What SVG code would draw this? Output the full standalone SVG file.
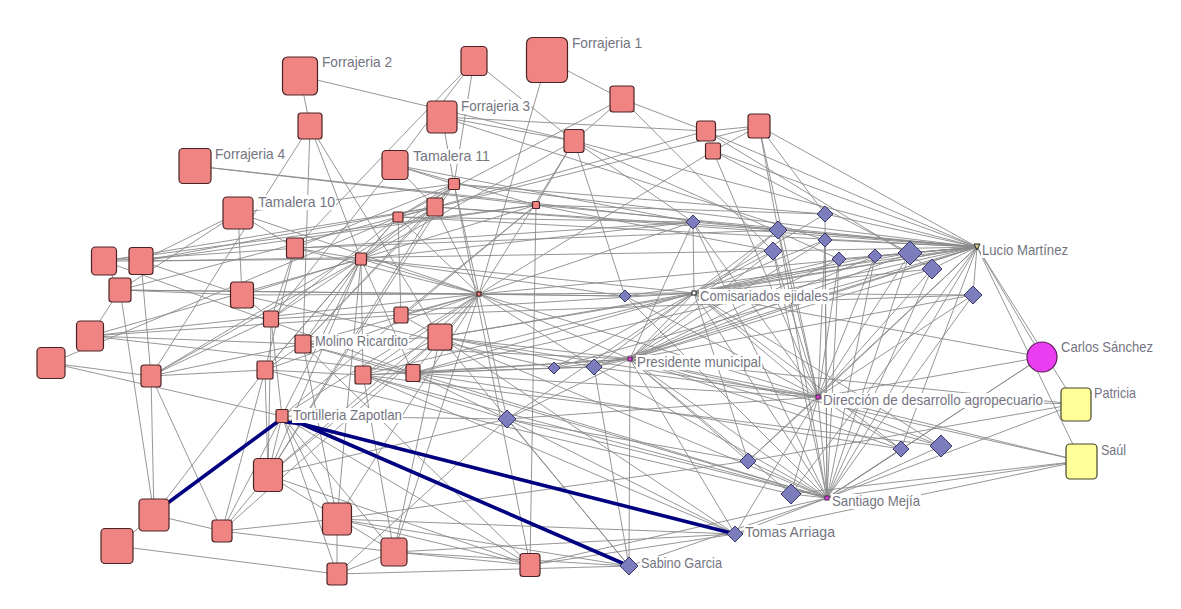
<svg xmlns="http://www.w3.org/2000/svg" width="1181" height="609" viewBox="0 0 1181 609">
<style>
.e{stroke:#8a8a8a;stroke-width:0.9;fill:none}
.b{stroke:#000080;stroke-width:3.6;fill:none;stroke-linecap:round;stroke-linejoin:round}
.pk{fill:#f08482;stroke:#4a2424;stroke-width:1.2}
.di{fill:#7d7dbe;stroke:#38386a;stroke-width:1}
.mg{fill:#e040e0;stroke:#502050;stroke-width:1}
.ye{fill:#ffff99;stroke:#44442a;stroke-width:1.2}
.lb{fill:#fff}
text{font-family:"Liberation Sans",Arial,sans-serif;font-size:14.5px;fill:#74747f}
</style>
<rect width="1181" height="609" fill="#fff"/>
<g id="connectors">
<path class="e" d="M300 76L310 126M300 76L574 141M310 126L151 376M310 126L303 344M310 126L440 337M310 126L361 259M195 166L536 205M195 166L778 230M238 213L454 184M238 213L295 248M238 213L242 295M238 213L141 261M547 60L622 99M547 60L479 294M622 99L706 131M622 99L574 141M622 99L398 217M474 61L395 165M474 61L295 248M474 61L574 141M474 61L454 184M442 117L706 131M442 117L574 141M442 117L454 184M395 165L454 184M395 165L271 319M574 141L693 222M574 141L479 294M574 141L625 296M574 141L977 247M574 141L536 205M706 131L759 126M706 131L932 269M706 131L435 207M759 126L778 230M759 126L825 214M759 126L713 151M713 151L910 253M713 151L479 294M759 126L398 217M454 184L825 214M454 184L977 247M454 184L435 207M454 184L398 217M454 184L295 248M454 184L479 294M454 184L303 344M454 184L268 475M442 117L825 240M622 99L773 251M574 141L839 259M395 165L536 205M395 165L693 222"/>
<path class="e" d="M977 247L693 222M977 247L778 230M977 247L825 214M977 247L773 251M977 247L825 240M977 247L839 259M977 247L875 256M977 247L910 253M977 247L932 269M977 247L973 295M977 247L694 293M977 247L630 359M977 247L818 397M977 247L827 498M977 247L1042 357M977 247L1076 404M977 247L1081 461M977 247L625 296M977 247L594 367M977 247L748 461M977 247L791 494M977 247L901 449M977 247L536 205M977 247L759 126M977 247L479 294M977 247L554 368M977 247L440 337M977 247L413 373M977 247L398 217M977 247L435 207M977 247L713 151M977 247L706 131"/>
<path class="e" d="M818 397L694 293M818 397L630 359M818 397L827 498M818 397L693 222M818 397L778 230M818 397L773 251M818 397L825 240M818 397L839 259M818 397L875 256M818 397L910 253M818 397L932 269M818 397L973 295M818 397L625 296M818 397L594 367M818 397L507 419M818 397L748 461M818 397L791 494M818 397L901 449M818 397L941 446M818 397L735 534M818 397L1042 357M818 397L1076 404M818 397L1081 461M818 397L479 294M818 397L440 337M818 397L413 373M818 397L759 126M818 397L713 151"/>
<path class="e" d="M827 498L694 293M827 498L630 359M827 498L778 230M827 498L773 251M827 498L825 240M827 498L839 259M827 498L875 256M827 498L910 253M827 498L932 269M827 498L973 295M827 498L625 296M827 498L594 367M827 498L748 461M827 498L791 494M827 498L901 449M827 498L941 446M827 498L735 534M827 498L629 566M827 498L1081 461M827 498L1076 404M827 498L1042 357M827 498L413 373M827 498L363 375M827 498L440 337M827 498L303 344M827 498L507 419M827 498L530 565M827 498L693 222M827 498L825 214"/>
<path class="e" d="M694 293L693 222M694 293L778 230M694 293L825 214M694 293L773 251M694 293L825 240M694 293L839 259M694 293L875 256M694 293L910 253M694 293L932 269M694 293L973 295M694 293L630 359M694 293L625 296M694 293L554 368M694 293L594 367M694 293L507 419M694 293L479 294M694 293L413 373M694 293L440 337M694 293L748 461M694 293L901 449M694 293L941 446M694 293L1042 357M694 293L363 375M694 293L361 259M694 293L271 319"/>
<path class="e" d="M630 359L629 566M630 359L594 367M630 359L554 368M630 359L693 222M630 359L778 230M630 359L773 251M630 359L825 240M630 359L839 259M630 359L875 256M630 359L910 253M630 359L932 269M630 359L973 295M630 359L748 461M630 359L791 494M630 359L901 449M630 359L941 446M630 359L1076 404M630 359L1081 461M630 359L413 373M630 359L363 375M630 359L440 337M630 359L479 294M630 359L507 419M630 359L735 534M630 359L303 344"/>
<path class="e" d="M1042 357L827 498M1076 404L748 461M1081 461L735 534M1081 461L791 494M735 534L337 519M735 534L394 552M735 534L507 419M735 534L530 565M735 534L440 337M629 566L337 519M629 566L394 552M629 566L440 337M629 566L594 367M629 566L337 574M629 566L507 419M337 519L748 461"/>
<path class="e" d="M154 515L117 546M154 515L222 531M154 515L151 376M154 515L120 290M154 515L265 370M117 546L337 574M222 531L337 519M222 531L394 552M222 531L151 376M222 531L282 416M222 531L268 475M222 531L265 370M337 574L337 519M337 574L394 552M337 574L282 416M394 552L530 565M337 519L530 565M337 519L282 416M268 475L282 416M268 475L265 370M268 475L271 319M337 519L303 344M394 552L282 416M530 565L303 344M530 565L268 475M530 565L454 184"/>
<path class="e" d="M479 294L435 207M479 294L398 217M479 294L361 259M479 294L295 248M479 294L120 290M479 294L242 295M479 294L303 344M479 294L363 375M479 294L413 373M479 294L440 337M479 294L282 416M479 294L265 370M479 294L268 475M479 294L337 519M479 294L394 552M479 294L625 296M479 294L693 222M479 294L507 419M479 294L401 315M479 294L238 213M479 294L90 336M479 294L594 367"/>
<path class="e" d="M361 259L141 261M361 259L295 248M361 259L454 184M361 259L435 207M361 259L398 217M361 259L271 319M361 259L265 370M361 259L303 344M361 259L363 375M361 259L413 373M361 259L282 416M361 259L268 475M361 259L151 376M361 259L625 296M361 259L693 222M361 259L574 141M361 259L90 336M361 259L337 519"/>
<path class="e" d="M398 217L120 290M398 217L435 207M398 217L271 319M398 217L265 370M398 217L693 222M398 217L51 363M398 217L401 315M435 207L395 165M435 207L104 261M435 207L151 376M435 207L303 344M435 207L778 230M435 207L268 475M435 207L141 261M536 205L530 565M536 205L141 261M536 205L242 295M536 205L282 416M536 205L825 214M536 205L773 251M536 205L401 315M536 205L104 261"/>
<path class="e" d="M104 261L141 261M104 261L120 290M104 261L693 222M104 261L413 373M90 336L120 290M90 336L401 315M90 336L303 344M90 336L413 373M51 363L151 376M51 363L282 416M151 376L271 319M151 376L265 370M151 376L303 344M151 376L141 261M265 370L363 375M265 370L295 248M265 370L303 344M303 344L413 373M303 344L440 337M363 375L413 373M363 375L440 337M363 375L394 552M363 375L507 419M363 375L735 534M413 373L554 368M413 373L594 367M413 373L507 419M440 337L594 367M440 337L268 475M440 337L222 531M440 337L394 552M282 416L507 419M282 416L530 565M282 416L271 319M268 475L394 552M554 368L594 367M507 419L268 475M507 419L337 574M507 419L748 461M141 261L773 251M120 290L625 296M242 295L554 368M363 375L941 446M413 373L901 449M401 315L973 295M265 370L791 494M401 315L440 337M295 248L271 319M242 295L271 319M120 290L242 295M141 261L242 295M295 248L778 230M238 213L120 290"/>
<path class="b" d="M280 420L165 505M286 422L302 424L735 534M302 424L629 566"/>
</g>
<g id="p1"><rect class="pk" x="526.5" y="37.5" width="41" height="45" rx="6"/><rect class="lb" x="571" y="36" width="72" height="15"/><text x="572" y="48" textLength="70" lengthAdjust="spacingAndGlyphs">Forrajeria 1</text></g>
<g id="p2"><rect class="pk" x="282.5" y="57" width="35" height="38" rx="5"/><rect class="lb" x="321" y="55" width="72" height="15"/><text x="322" y="67" textLength="70" lengthAdjust="spacingAndGlyphs">Forrajeria 2</text></g>
<g id="p3"><rect class="pk" x="427" y="101" width="30" height="32" rx="4"/><rect class="lb" x="460" y="99" width="71" height="15"/><text x="461" y="111" textLength="69" lengthAdjust="spacingAndGlyphs">Forrajeria 3</text></g>
<g id="p4"><rect class="pk" x="179" y="148.5" width="32" height="35" rx="4"/><rect class="lb" x="214" y="147" width="72" height="15"/><text x="215" y="159" textLength="70" lengthAdjust="spacingAndGlyphs">Forrajeria 4</text></g>
<g id="p5"><rect class="pk" x="461" y="46.5" width="26" height="29" rx="4"/></g>
<g id="p6"><rect class="pk" x="610" y="86" width="24" height="26" rx="3"/></g>
<g id="p7"><rect class="pk" x="298" y="113" width="24" height="26" rx="3"/></g>
<g id="p8"><rect class="pk" x="382" y="150.5" width="26" height="29" rx="4"/><rect class="lb" x="412" y="149" width="79" height="15"/><text x="413" y="161" textLength="77" lengthAdjust="spacingAndGlyphs">Tamalera 11</text></g>
<g id="p9"><rect class="pk" x="223" y="197" width="30" height="32" rx="4"/><rect class="lb" x="257" y="195" width="79" height="15"/><text x="258" y="207" textLength="77" lengthAdjust="spacingAndGlyphs">Tamalera 10</text></g>
<g id="p10"><rect class="pk" x="564" y="129.5" width="20" height="23" rx="3"/></g>
<g id="p11"><rect class="pk" x="696.5" y="121" width="19" height="20" rx="3"/></g>
<g id="p12"><rect class="pk" x="748" y="114" width="22" height="24" rx="3"/></g>
<g id="p13"><rect class="pk" x="705.5" y="143" width="15" height="16" rx="2"/></g>
<g id="p14"><rect class="pk" x="448.5" y="178.5" width="11" height="11" rx="1.5"/></g>
<g id="p15"><rect class="pk" x="427" y="198" width="16" height="18" rx="2"/></g>
<g id="p16"><rect class="pk" x="393" y="212" width="10" height="10" rx="1.5"/></g>
<g id="p17"><rect class="pk" x="532.5" y="201.5" width="7" height="7" rx="1"/></g>
<g id="p18"><rect class="pk" x="477" y="292" width="4" height="4"/></g>
<g id="p19"><rect class="pk" x="394" y="307" width="14" height="16" rx="2"/></g>
<g id="p20"><rect class="pk" x="91.5" y="247" width="25" height="28" rx="4"/></g>
<g id="p21"><rect class="pk" x="129" y="247.5" width="24" height="27" rx="3"/></g>
<g id="p22"><rect class="pk" x="109" y="278" width="22" height="24" rx="3"/></g>
<g id="p23"><rect class="pk" x="230.5" y="282" width="23" height="26" rx="3"/></g>
<g id="p24"><rect class="pk" x="286.5" y="238" width="17" height="20" rx="2"/></g>
<g id="p25"><rect class="pk" x="355.5" y="253" width="11" height="12" rx="1.5"/></g>
<g id="p26"><rect class="pk" x="263.5" y="311" width="15" height="16" rx="2"/></g>
<g id="p27"><rect class="pk" x="76.5" y="321" width="27" height="30" rx="4"/></g>
<g id="p28"><rect class="pk" x="37" y="347.5" width="28" height="31" rx="4"/></g>
<g id="p29"><rect class="pk" x="141" y="365" width="20" height="22" rx="3"/></g>
<g id="p30"><rect class="pk" x="257" y="361" width="16" height="18" rx="2"/></g>
<g id="p31"><rect class="pk" x="295" y="335" width="16" height="18" rx="2"/><rect class="lb" x="314" y="334" width="95" height="15"/><text x="315" y="346" textLength="93" lengthAdjust="spacingAndGlyphs">Molino Ricardito</text></g>
<g id="p32"><rect class="pk" x="355" y="366" width="16" height="18" rx="2"/></g>
<g id="p33"><rect class="pk" x="406" y="364.5" width="14" height="17" rx="2"/></g>
<g id="p34"><rect class="pk" x="428" y="324" width="24" height="26" rx="3"/></g>
<g id="p35"><rect class="pk" x="276" y="409.5" width="12" height="13" rx="1.5"/><rect class="lb" x="292" y="408" width="111" height="15"/><text x="293" y="420" textLength="109" lengthAdjust="spacingAndGlyphs">Tortilleria Zapotlan</text></g>
<g id="p36"><rect class="pk" x="253.5" y="458.5" width="29" height="33" rx="4"/></g>
<g id="p37"><rect class="pk" x="139" y="499" width="30" height="32" rx="4"/></g>
<g id="p38"><rect class="pk" x="101" y="528.5" width="32" height="35" rx="4"/></g>
<g id="p39"><rect class="pk" x="212" y="520" width="20" height="22" rx="3"/></g>
<g id="p40"><rect class="pk" x="322.5" y="503" width="29" height="32" rx="4"/></g>
<g id="p41"><rect class="pk" x="327" y="563" width="20" height="22" rx="3"/></g>
<g id="p42"><rect class="pk" x="381" y="538" width="26" height="28" rx="4"/></g>
<g id="p43"><rect class="pk" x="520" y="553.5" width="20" height="23" rx="3"/></g>
<g id="d1"><polygon class="di" points="693,215 700,222 693,229 686,222"/></g>
<g id="d2"><polygon class="di" points="778,221 787,230 778,239 769,230"/></g>
<g id="d3"><polygon class="di" points="825,206 833,214 825,222 817,214"/></g>
<g id="d4"><polygon class="di" points="773,242 782,251 773,260 764,251"/></g>
<g id="d5"><polygon class="di" points="825,233 832,240 825,247 818,240"/></g>
<g id="d6"><polygon class="di" points="839,252 846,259 839,266 832,259"/></g>
<g id="d7"><polygon class="di" points="875,249 882,256 875,263 868,256"/></g>
<g id="d8"><polygon class="di" points="910,241 922,253 910,265 898,253"/></g>
<g id="d9"><polygon class="di" points="932,259 942,269 932,279 922,269"/></g>
<g id="d10"><polygon class="di" points="973,286 982,295 973,304 964,295"/></g>
<g id="d11"><polygon class="di" points="625,290 631,296 625,302 619,296"/></g>
<g id="d12"><polygon class="di" points="554,362 560,368 554,374 548,368"/></g>
<g id="d13"><polygon class="di" points="594,359 602,367 594,375 586,367"/></g>
<g id="d14"><polygon class="di" points="507,410 516,419 507,428 498,419"/></g>
<g id="d15"><polygon class="di" points="748,453 756,461 748,469 740,461"/></g>
<g id="d16"><polygon class="di" points="791,484 801,494 791,504 781,494"/></g>
<g id="d17"><polygon class="di" points="901,441 909,449 901,457 893,449"/></g>
<g id="d18"><polygon class="di" points="941,435 952,446 941,457 930,446"/></g>
<g id="d19"><polygon class="di" points="735,526 743,534 735,542 727,534"/><rect class="lb" x="744" y="525" width="92" height="15"/><text x="745" y="537" textLength="90" lengthAdjust="spacingAndGlyphs">Tomas Arriaga</text></g>
<g id="d20"><polygon class="di" points="629,557 638,566 629,575 620,566"/><rect class="lb" x="640" y="556" width="83" height="15"/><text x="641" y="568" textLength="81" lengthAdjust="spacingAndGlyphs">Sabino Garcia</text></g>
<g id="lucio"><polygon points="974,244 980,244 977,250" fill="#cccc88" stroke="#222" stroke-width="1"/><rect class="lb" x="981" y="243" width="88" height="15"/><text x="982" y="255" textLength="86" lengthAdjust="spacingAndGlyphs">Lucio Martínez</text></g>
<g id="comisariados"><rect x="692" y="291" width="4" height="4" fill="#fff" stroke="#222" stroke-width="1"/><rect class="lb" x="699" y="289" width="130" height="15"/><text x="700" y="301" textLength="128" lengthAdjust="spacingAndGlyphs">Comisariados ejidales</text></g>
<g id="presidente"><rect class="mg" x="628" y="357" width="4" height="4"/><rect class="lb" x="636" y="355" width="126" height="15"/><text x="637" y="367" textLength="124" lengthAdjust="spacingAndGlyphs">Presidente municipal</text></g>
<g id="direccion"><rect class="mg" x="816" y="395" width="4" height="4"/><rect class="lb" x="822" y="393" width="222" height="15"/><text x="823" y="405" textLength="220" lengthAdjust="spacingAndGlyphs">Dirección de desarrollo agropecuario</text></g>
<g id="santiago"><rect class="mg" x="825" y="496" width="4" height="4"/><rect class="lb" x="831" y="494" width="90" height="15"/><text x="832" y="506" textLength="88" lengthAdjust="spacingAndGlyphs">Santiago Mejía</text></g>
<g id="carlos"><circle cx="1042" cy="357" r="15" fill="#ea3cf0" stroke="#5a1a5a" stroke-width="1.2"/><text x="1061" y="352" textLength="92" lengthAdjust="spacingAndGlyphs">Carlos Sánchez</text></g>
<g id="patricia"><rect class="ye" x="1061" y="388" width="30" height="33" rx="4"/><text x="1094" y="398" textLength="42" lengthAdjust="spacingAndGlyphs">Patricia</text></g>
<g id="saul"><rect class="ye" x="1066" y="444" width="31" height="35" rx="4"/><text x="1101" y="455" textLength="25" lengthAdjust="spacingAndGlyphs">Saúl</text></g>
</svg>
